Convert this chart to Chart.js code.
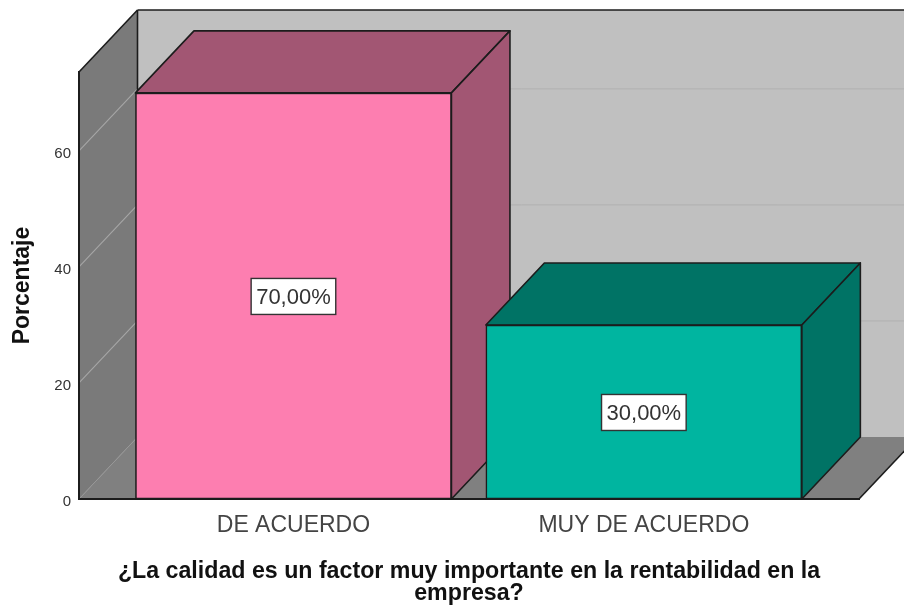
<!DOCTYPE html>
<html lang="es">
<head>
<meta charset="utf-8">
<title>Porcentaje</title>
<style>
  html, body { margin: 0; padding: 0; background: #fff; }
  #wrap { width: 904px; height: 605px; }
</style>
<script src="https://cdn.jsdelivr.net/npm/chart.js@4"></script>
</head>
<body>
<div id="wrap"><canvas id="chart"></canvas></div>
<script>
  var categories = ['DE ACUERDO', 'MUY DE ACUERDO'];
  var percentages = [70, 30];
  var frontColors = ['#fd7eb0', '#00b5a0'];
  var shadeColors = ['#a25673', '#007365'];
  var xTitleLines = ['¿La calidad es un factor muy importante en la rentabilidad en la', 'empresa?'];
  var yTitle = 'Porcentaje';

  // profundidad del efecto 3D
  var DEPTH_X = 58.5;
  var DEPTH_Y = 62;
  var EDGE = '#1c1c1c';
  var FONT = '"Liberation Sans", Arial, sans-serif';

  function poly(ctx, pts, fill, stroke, lineWidth) {
    ctx.beginPath();
    ctx.moveTo(pts[0][0], pts[0][1]);
    for (var i = 1; i < pts.length; i++) ctx.lineTo(pts[i][0], pts[i][1]);
    ctx.closePath();
    if (fill) { ctx.fillStyle = fill; ctx.fill(); }
    if (stroke) { ctx.strokeStyle = stroke; ctx.lineWidth = lineWidth || 1.6; ctx.stroke(); }
  }

  function segment(ctx, x1, y1, x2, y2, color, lineWidth) {
    ctx.beginPath();
    ctx.moveTo(x1, y1);
    ctx.lineTo(x2, y2);
    ctx.strokeStyle = color;
    ctx.lineWidth = lineWidth;
    ctx.stroke();
  }

  // paredes y suelo, con las líneas de rejilla sacadas de la escala Y
  var wallsPlugin = {
    id: 'walls',
    beforeDraw: function (chart) {
      var ctx = chart.ctx;
      var a = chart.chartArea;
      var bx = a.left + DEPTH_X;
      var right = a.right + DEPTH_X;
      var backTop = a.top - DEPTH_Y;
      var backBottom = a.bottom - DEPTH_Y;
      ctx.save();
      poly(ctx, [[bx, backTop], [right, backTop], [right, backBottom], [bx, backBottom]], '#c0c0c0');
      poly(ctx, [[a.left, a.bottom], [a.right, a.bottom], [right, backBottom], [bx, backBottom]], '#808080');
      poly(ctx, [[a.left, a.top], [bx, backTop], [bx, backBottom], [a.left, a.bottom]], '#7a7a7a');
      chart.scales.y.ticks.forEach(function (t) {
        var y = chart.scales.y.getPixelForValue(t.value);
        segment(ctx, a.left, y, bx, y - DEPTH_Y, t.value > 0 ? '#a6a6a6' : '#969696', t.value > 0 ? 1.1 : 0.8);
        if (t.value > 0) segment(ctx, bx, y - DEPTH_Y, right, y - DEPTH_Y, '#b0b0b0', 1);
      });
      segment(ctx, bx, backTop, right, backTop, EDGE, 1.6);
      segment(ctx, a.left, a.top, bx, backTop, EDGE, 1.6);
      segment(ctx, bx, backTop, bx, backBottom, EDGE, 1.6);
      segment(ctx, a.right, a.bottom, right, backBottom, EDGE, 1.6);
      ctx.restore();
    },
    // caras superior y lateral de cada barra
    beforeDatasetsDraw: function (chart) {
      var ctx = chart.ctx;
      chart.getDatasetMeta(0).data.forEach(function (bar, i) {
        var half = bar.width / 2;
        var l = bar.x - half;
        var r = bar.x + half;
        ctx.save();
        ctx.lineJoin = 'round';
        poly(ctx, [[l, bar.y], [l + DEPTH_X, bar.y - DEPTH_Y], [r + DEPTH_X, bar.y - DEPTH_Y], [r, bar.y]],
          shadeColors[i], EDGE);
        poly(ctx, [[r, bar.y], [r + DEPTH_X, bar.y - DEPTH_Y], [r + DEPTH_X, bar.base - DEPTH_Y], [r, bar.base]],
          shadeColors[i], EDGE);
        ctx.restore();
      });
    },
    // etiqueta de valor en el centro de la cara frontal
    afterDatasetsDraw: function (chart) {
      var ctx = chart.ctx;
      chart.getDatasetMeta(0).data.forEach(function (bar, i) {
        var text = percentages[i].toFixed(2).replace('.', ',') + '%';
        var cy = (bar.y + bar.base) / 2 + 0.5;
        ctx.save();
        ctx.font = '22px ' + FONT;
        var w = ctx.measureText(text).width + 10;
        var h = 36;
        ctx.fillStyle = '#fff';
        ctx.fillRect(bar.x - w / 2, cy - h / 2, w, h);
        ctx.strokeStyle = '#333';
        ctx.lineWidth = 1.4;
        ctx.strokeRect(bar.x - w / 2, cy - h / 2, w, h);
        ctx.fillStyle = '#333';
        ctx.textAlign = 'center';
        ctx.textBaseline = 'middle';
        ctx.fillText(text, bar.x, cy + 1);
        ctx.restore();
      });
    }
  };

  new Chart(document.getElementById('chart'), {
    type: 'bar',
    data: {
      datasets: [{
        data: percentages.map(function (v, i) { return { x: i, y: v }; }),
        backgroundColor: frontColors,
        borderColor: EDGE,
        borderWidth: 1.6,
        borderSkipped: false,
        barThickness: 316,
        clip: false
      }]
    },
    plugins: [wallsPlugin],
    options: {
      responsive: true,
      maintainAspectRatio: false,
      animation: false,
      layout: { padding: { left: 0, right: 45, top: 72, bottom: 0 } },
      plugins: { legend: { display: false }, tooltip: { enabled: false } },
      scales: {
        x: {
          type: 'linear',
          offset: false,
          min: -0.612,
          max: 1.614,
          grid: { display: false },
          border: { display: true, color: EDGE, width: 2 },
          afterFit: function (scale) { scale.height = 106; },
          ticks: {
            stepSize: 1,
            includeBounds: false,
            autoSkip: false,
            maxRotation: 0,
            padding: 5,
            color: '#444',
            font: { family: FONT, size: 23 },
            callback: function (v) { return categories[v]; }
          },
          title: {
            display: true,
            text: xTitleLines,
            color: '#111',
            font: { family: FONT, size: 23.2, weight: 'bold', lineHeight: 0.95 },
            padding: { top: 2, bottom: 0 }
          }
        },
        y: {
          min: 0,
          max: 73.6,
          grid: { display: false },
          border: { display: true, color: EDGE, width: 2 },
          afterFit: function (scale) { scale.width = 79; },
          ticks: {
            stepSize: 20,
            includeBounds: false,
            padding: 0,
            labelOffset: 3,
            color: '#333',
            font: { family: FONT, size: 15 }
          },
          title: {
            display: true,
            text: yTitle,
            color: '#111',
            font: { family: FONT, size: 23, weight: 'bold' },
            padding: { top: 9, bottom: 0 }
          }
        }
      }
    }
  });
</script>
</body>
</html>
